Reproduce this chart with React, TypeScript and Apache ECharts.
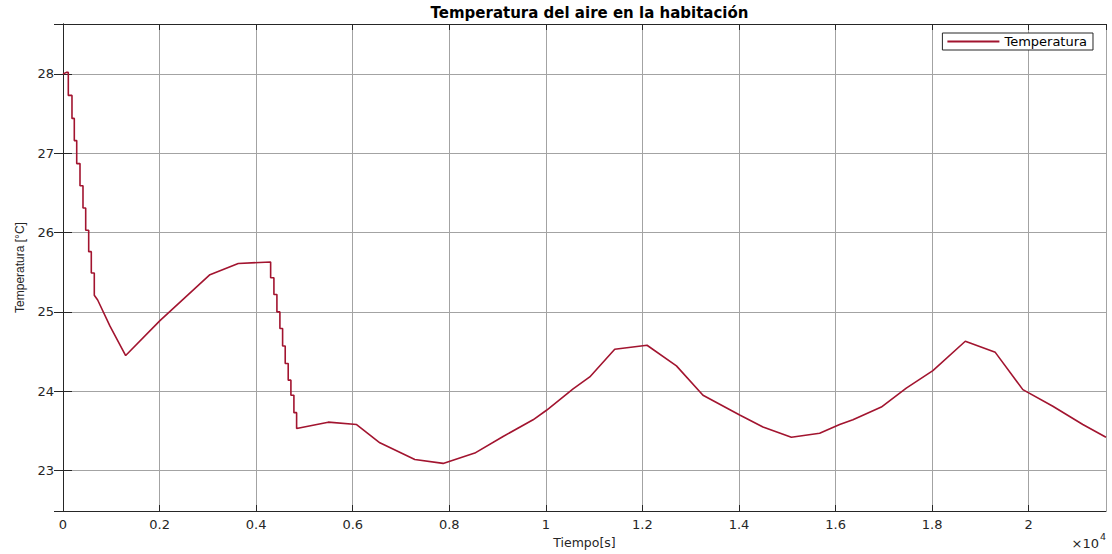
import { useEffect, useRef } from 'react';
import * as echarts from 'echarts';

// Time in seconds and air temperature in °C (stair corners duplicated in time)
const timeSec = [
  0, 70, 110, 110, 186, 186, 234, 234, 284, 284, 352, 352, 414, 414, 470, 470,
  532, 532, 586, 586, 648, 648, 718, 973, 1298, 2008, 3043, 3629, 4300,
  4300, 4368, 4368, 4430, 4430, 4492, 4492, 4548, 4548, 4602, 4602, 4664, 4664,
  4720, 4720, 4782, 4782, 4838, 4838,
  5492, 6080, 6562, 7286, 7872, 8528, 9114, 9735, 10013, 10564, 10909, 11426,
  12095, 12704, 13254, 14014, 14496, 15084, 15670, 16084, 16359, 16947, 17464,
  18015, 18686, 19307, 19878, 20499, 21120, 21600,
];
const tempC = [
  28.0, 28.02, 28.02, 27.73, 27.73, 27.44, 27.44, 27.16, 27.16, 26.87, 26.87, 26.59,
  26.59, 26.31, 26.31, 26.03, 26.03, 25.76, 25.76, 25.49, 25.49, 25.21, 25.15, 24.82,
  24.45, 24.89, 25.47, 25.61, 25.63,
  25.43, 25.43, 25.22, 25.22, 25.0, 25.0, 24.79, 24.79, 24.57, 24.57, 24.35, 24.35,
  24.14, 24.14, 23.95, 23.95, 23.73, 23.73, 23.53,
  23.61, 23.58, 23.35, 23.14, 23.09, 23.22, 23.43, 23.64, 23.76, 24.03, 24.18, 24.53,
  24.58, 24.32, 23.95, 23.7, 23.55, 23.42, 23.47, 23.58, 23.64, 23.8, 24.04,
  24.26, 24.63, 24.49, 24.02, 23.81, 23.58, 23.42,
];
const xTickLabels = ['0', '0.2', '0.4', '0.6', '0.8', '1', '1.2', '1.4', '1.6', '1.8', '2'];
const xMin = 0;
const xMax = 21600;
const xStep = 2000;
const yMin = 22.49;
const yMax = 28.63;

const FONT = 'DejaVu Sans';
const TXT = '#262626';
const GRIDC = '#a3a3a3';
const LINEC = '#A2142F';

export default function App() {
  const ref = useRef<HTMLDivElement>(null);
  useEffect(() => {
    if (!ref.current) return;
    const chart = echarts.init(ref.current, null, { renderer: 'svg' });
    const data = timeSec.map((t, i) => [t, tempC[i]]);
    const xLabel = (v: number) => {
      const k = Math.round(v / xStep);
      return Math.abs(v - k * xStep) < 1e-6 ? xTickLabels[k] ?? '' : '';
    };
    const yLabel = (v: number) => {
      const r = Math.round(v);
      return Math.abs(v - r) < 1e-6 ? String(r) : '';
    };
    chart.setOption({
      animation: false,
      backgroundColor: '#ffffff',
      title: {
        text: 'Temperatura del aire en la habitación',
        left: 584.5,
        top: 0,
        textAlign: 'center',
        textStyle: { fontFamily: FONT, fontSize: 15, fontWeight: 'bold', color: '#000' },
      },
      legend: {
        data: [{ name: 'Temperatura', icon: 'rect' }],
        right: 19,
        top: 33,
        orient: 'horizontal',
        backgroundColor: '#fff',
        borderColor: TXT,
        borderWidth: 1,
        borderRadius: 0,
        padding: [2, 6, 2, 5],
        itemWidth: 52,
        itemHeight: 2,
        itemGap: 4,
        itemStyle: { color: LINEC },
        textStyle: { fontFamily: FONT, fontSize: 13, color: '#000', padding: [0, 0, 0, 0] },
      },
      grid: { left: 63, right: 6, top: 24, bottom: 43, containLabel: false },
      xAxis: [
        {
          type: 'value',
          min: xMin,
          max: xMax,
          interval: xStep,
          position: 'bottom',
          name: 'Tiempo[s]',
          nameLocation: 'middle',
          nameGap: 23,
          nameTextStyle: { fontFamily: FONT, fontSize: 12.5, color: TXT },
          axisLine: { show: true, lineStyle: { color: TXT, width: 1 } },
          axisTick: { show: true, inside: true, length: 6, lineStyle: { color: TXT } },
          axisLabel: {
            show: true,
            margin: 7,
            fontFamily: FONT,
            fontSize: 13,
            color: TXT,
            formatter: xLabel,
            showMaxLabel: false,
          },
          splitLine: { show: true, lineStyle: { color: GRIDC, width: 1 } },
        },
        {
          type: 'value',
          min: xMin,
          max: xMax,
          interval: xStep,
          position: 'top',
          axisLine: { show: true, lineStyle: { color: TXT, width: 1 } },
          axisTick: { show: true, inside: true, length: 6, lineStyle: { color: TXT } },
          axisLabel: { show: false },
          splitLine: { show: false },
        },
      ],
      yAxis: [
        {
          type: 'value',
          min: yMin,
          max: yMax,
          splitNumber: 5,
          position: 'left',
          name: 'Temperatura [°C]',
          nameLocation: 'middle',
          nameGap: 37,
          nameTextStyle: { fontFamily: 'Liberation Sans', fontSize: 12, color: TXT },
          axisLine: { show: true, lineStyle: { color: TXT, width: 1 } },
          axisTick: { show: true, inside: true, length: 9, lineStyle: { color: TXT } },
          axisLabel: { show: true, margin: 9, fontFamily: FONT, fontSize: 13, color: TXT, formatter: yLabel },
          splitLine: { show: true, lineStyle: { color: GRIDC, width: 1 } },
        },
        {
          type: 'value',
          min: yMin,
          max: yMax,
          splitNumber: 5,
          position: 'right',
          axisLine: { show: true, lineStyle: { color: TXT, width: 1 } },
          axisTick: { show: true, inside: true, length: 9, lineStyle: { color: TXT } },
          axisLabel: { show: false },
          splitLine: { show: false },
        },
      ],
      graphic: [
        {
          type: 'text',
          x: 1099,
          y: 543,
          style: {
            text: '×10',
            fontFamily: FONT,
            fontSize: 13,
            fill: TXT,
            textAlign: 'right',
            textVerticalAlign: 'middle',
          },
        },
        {
          type: 'text',
          x: 1100,
          y: 536,
          style: {
            text: '4',
            fontFamily: FONT,
            fontSize: 9.5,
            fill: TXT,
            textAlign: 'left',
            textVerticalAlign: 'middle',
          },
        },
      ],
      series: [
        {
          name: 'Temperatura',
          type: 'line',
          xAxisIndex: 0,
          yAxisIndex: 0,
          data,
          showSymbol: false,
          symbol: 'none',
          lineStyle: { color: LINEC, width: 1.6 },
          itemStyle: { color: LINEC },
        },
      ],
    });
    return () => chart.dispose();
  }, []);
  return (
    <div
      ref={ref}
      style={{ position: 'absolute', left: 0, top: 0, width: 1112, height: 554 }}
    />
  );
}
